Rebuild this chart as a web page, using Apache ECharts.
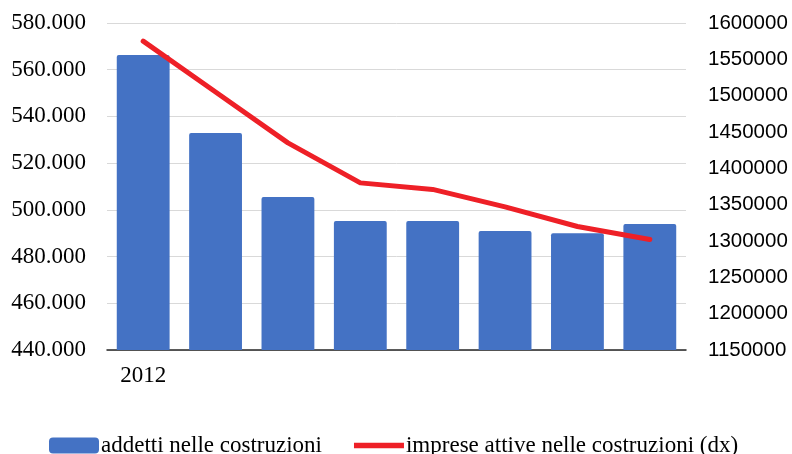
<!DOCTYPE html>
<html><head><meta charset="utf-8">
<script src="https://cdn.jsdelivr.net/npm/echarts@6/dist/echarts.min.js"></script>
<style>html,body{margin:0;padding:0;background:#fff}#c{width:792px;height:454px}</style>
</head><body><div id="c"></div>
<script>
const categories = ['2012','2013','2014','2015','2016','2017','2018','2019'];
const addetti = [566300, 532900, 505500, 495200, 495200, 490900, 490000, 493900];
const imprese = [1575000, 1505000, 1435000, 1380000, 1371000, 1347000, 1320000, 1302000];
const seriesNames = ['addetti nelle costruzioni', 'imprese attive nelle costruzioni (dx)'];

const chart = echarts.init(document.getElementById('c'));
chart.setOption({
  animation: false,
  backgroundColor: '#fff',
  grid: { left: 107, right: 106, top: 23, bottom: 104, containLabel: false },
  legend: {
    left: 44, bottom: -8, itemGap: 32, itemWidth: 50, itemHeight: 16,
    textStyle: { fontFamily: 'Liberation Serif', fontSize: 23, color: '#000', padding: [0,0,0,-3] },
    data: [
      { name: seriesNames[0], icon: 'roundRect' },
      { name: seriesNames[1], icon: 'path://M0,0 L48,0 L48,5.5 L0,5.5 Z', itemStyle: { color: '#EE2027' } }
    ]
  },
  xAxis: {
    type: 'category', data: categories, boundaryGap: true,
    axisLine: { lineStyle: { color: '#262626', width: 1.5 } },
    axisTick: { show: false },
    axisLabel: {
      interval: function (i) { return i === 0; },
      margin: 14, fontFamily: 'Liberation Serif', fontSize: 23, color: '#000'
    }
  },
  yAxis: [
    {
      type: 'value', min: 440000, max: 580000, interval: 20000,
      axisLine: { show: false }, axisTick: { show: false },
      splitLine: { lineStyle: { color: '#d9d9d9', width: 1 } },
      axisLabel: {
        margin: 21, fontFamily: 'Liberation Serif', fontSize: 23, color: '#000',
        formatter: v => (v / 1000).toFixed(0) + '.000'
      }
    },
    {
      type: 'value', min: 1150000, max: 1600000, interval: 50000,
      axisLine: { show: false }, axisTick: { show: false }, splitLine: { show: false },
      axisLabel: { margin: 22, fontFamily: 'Liberation Sans', fontSize: 20.5, color: '#000',
        formatter: v => String(v) }
    }
  ],
  series: [
    {
      name: seriesNames[0], type: 'bar', data: addetti, yAxisIndex: 0,
      barWidth: '73%',
      itemStyle: { color: '#4472C4', borderRadius: [2,2,0,0] }
    },
    {
      name: seriesNames[1], type: 'line', data: imprese, yAxisIndex: 1,
      showSymbol: false, symbol: 'none', z: 5,
      lineStyle: { color: '#EE2027', width: 5, cap: 'round', join: 'round' },
      itemStyle: { color: '#EE2027' }
    }
  ]
});
</script></body></html>
